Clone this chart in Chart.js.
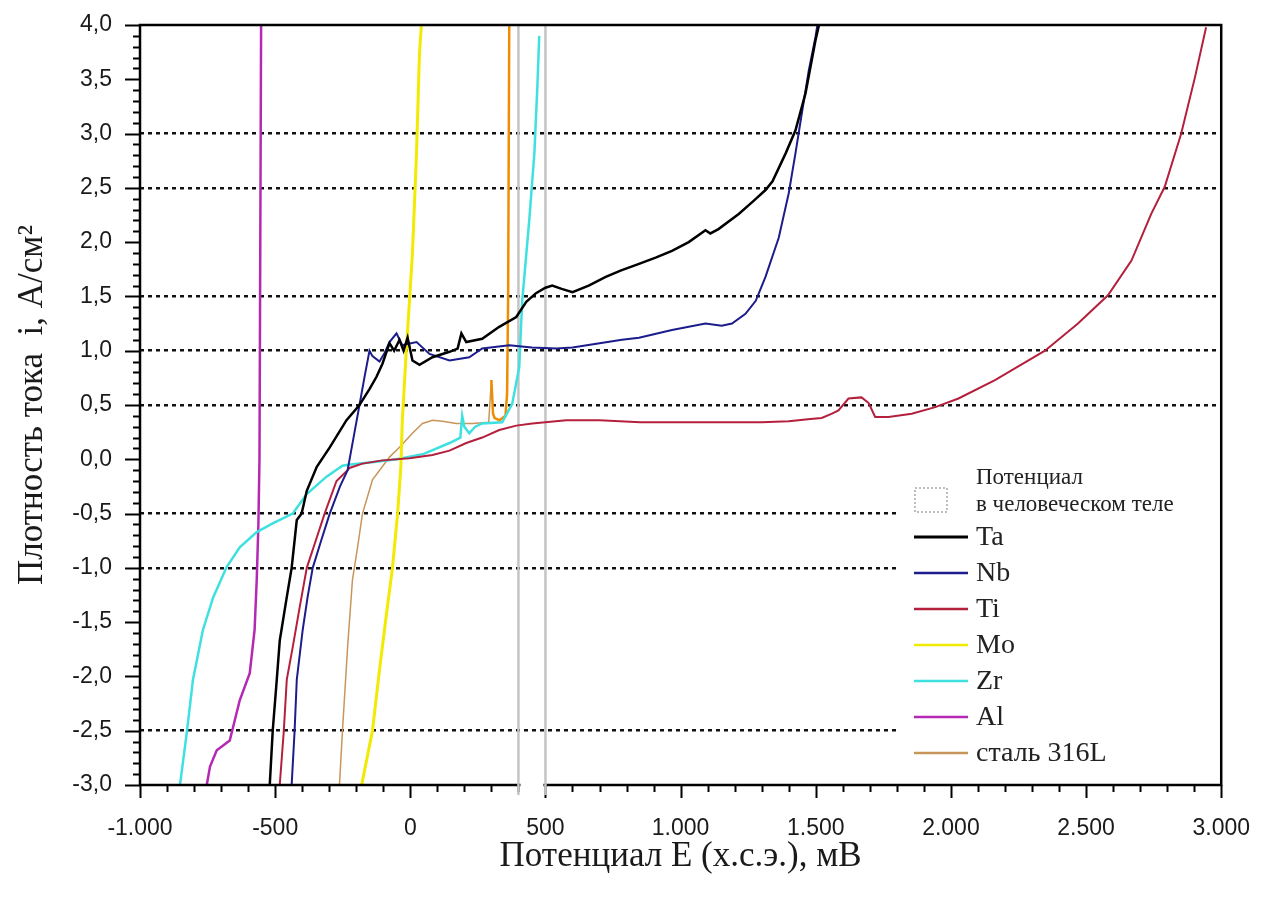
<!DOCTYPE html>
<html lang="ru">
<head>
  <meta charset="UTF-8">
  <title>Поляризационные кривые</title>
  <script src="https://cdn.jsdelivr.net/npm/chart.js"></script>
  <style>
    body { margin: 0; background: #fff; }
    #wrap { width: 1272px; height: 903px; }
  </style>
</head>
<body>
  <div id="wrap"><canvas id="chart" width="1272" height="903"></canvas></div>

  <script>
    // axis ticks
    const xTicks = [-1000, -500, 0, 500, 1000, 1500, 2000, 2500, 3000];
    const xTickLabels = ['-1.000', '-500', '0', '500', '1.000', '1.500', '2.000', '2.500', '3.000'];
    const yTicks = [-3, -2.5, -2, -1.5, -1, -0.5, 0, 0.5, 1, 1.5, 2, 2.5, 3, 3.5, 4];
    const yTickLabels = ['-3,0', '-2,5', '-2,0', '-1,5', '-1,0', '-0,5', '0,0', '0,5', '1,0', '1,5', '2,0', '2,5', '3,0', '3,5', '4,0'];
    const yGridValues = [3, 2.5, 1.5, 1, 0.5, -0.5, -1, -2.5];

    const seriesNames = ['Ta', 'Nb', 'Ti', 'Mo', 'Zr', 'Al', 'сталь 316L'];
    const bodyLabel = ['Потенциал', 'в человеческом теле'];
    const bodyE = [400, 500];

    // E, mV  /  i, A/cm2
    const taE = [-520,-509,-494,-483,-457,-439,-420,-402,-383,-346,-298,-236,-188,-150,-125,-103,-77,-60,-40,-25,-10,8,34,82,145,175,189,207,266,329,392,429,465,500,525,560,600,660,723,780,846,910,968,1030,1092,1110,1140,1215,1270,1314,1340,1389,1425,1462,1499,1512];
    const taI = [-3.0,-2.5,-2.03,-1.67,-1.27,-1.0,-0.56,-0.5,-0.29,-0.07,0.11,0.36,0.5,0.65,0.76,0.88,1.07,1.0,1.1,1.0,1.12,0.91,0.87,0.94,0.99,1.02,1.16,1.08,1.11,1.22,1.31,1.45,1.53,1.58,1.6,1.57,1.54,1.6,1.68,1.74,1.80,1.86,1.92,2.0,2.11,2.08,2.12,2.26,2.38,2.48,2.56,2.82,3.03,3.37,3.86,4.0];

    const nbE = [-439,-428,-420,-398,-380,-361,-330,-298,-260,-232,-210,-188,-170,-151,-140,-114,-95,-77,-51,-30,-14,23,71,145,218,266,366,450,540,600,783,846,968,1092,1152,1190,1240,1278,1314,1363,1400,1425,1450,1474,1499,1506];
    const nbI = [-3.0,-2.5,-2.03,-1.57,-1.27,-1.0,-0.75,-0.5,-0.25,-0.1,0.2,0.5,0.75,1.0,0.95,0.9,0.98,1.08,1.16,1.05,1.06,1.08,0.97,0.91,0.94,1.02,1.05,1.03,1.02,1.03,1.1,1.12,1.19,1.25,1.23,1.25,1.34,1.46,1.68,2.04,2.45,2.82,3.21,3.58,3.89,4.0];

    const tiE = [-483,-468,-457,-435,-409,-383,-350,-317,-273,-232,-225,-177,-103,-3,82,145,207,266,329,392,451,577,700,850,1000,1100,1200,1300,1400,1480,1522,1560,1584,1621,1669,1695,1720,1769,1855,1942,2028,2163,2348,2470,2581,2668,2741,2791,2852,2903,2944];
    const tiI = [-3.0,-2.5,-2.03,-1.73,-1.36,-1.0,-0.75,-0.5,-0.2,-0.1,-0.08,-0.04,-0.01,0.01,0.04,0.08,0.15,0.2,0.27,0.31,0.33,0.36,0.36,0.34,0.34,0.34,0.34,0.34,0.35,0.37,0.38,0.42,0.45,0.56,0.57,0.52,0.39,0.39,0.42,0.48,0.56,0.73,1.0,1.25,1.51,1.83,2.26,2.51,3.0,3.52,3.98];

    const moE = [-180,-160,-140,-114,-88,-66,-47,-35,-30,-15,-3,8,23,34,41];
    const moI = [-3.0,-2.75,-2.5,-1.94,-1.42,-1.0,-0.5,-0.07,0.33,1.0,1.46,1.9,2.82,3.74,4.0];

    const zrE = [-852,-826,-804,-767,-729,-679,-631,-568,-509,-435,-383,-310,-251,-230,-150,-50,50,145,185,192,200,218,240,266,340,377,403,414,440,459,470,477];
    const zrI = [-3.0,-2.5,-2.03,-1.57,-1.27,-0.99,-0.81,-0.67,-0.59,-0.5,-0.32,-0.16,-0.06,-0.05,-0.03,0.0,0.05,0.15,0.2,0.4,0.3,0.24,0.3,0.33,0.34,0.51,0.85,1.46,2.2,2.82,3.43,3.9];

    const alE = [-753,-741,-716,-668,-631,-594,-576,-568,-562,-558,-555,-552];
    const alI = [-3.0,-2.83,-2.68,-2.59,-2.22,-1.97,-1.57,-1.1,-0.6,0.0,2.0,4.0];

    const stE = [-262,-251,-232,-214,-195,-177,-140,-77,-40,8,45,82,119,170,230,290,300,306,312,330,352,358,362,366];
    const stI = [-3.0,-2.5,-1.73,-1.11,-0.81,-0.5,-0.19,0.02,0.11,0.24,0.33,0.36,0.35,0.33,0.33,0.34,0.73,0.42,0.38,0.36,0.40,0.6,1.5,4.0];

    const colors = ['#000000', '#1c1c8c', '#b4203c', '#f2ea00', '#3ee0e0', '#b428b4', '#c8965a'];
    const widths = [2.5, 2, 2, 3, 2.5, 2.5, 1.5];
    const steelOrange = '#f08c00';

    const pts = (xs, ys) => xs.map((x, i) => ({ x, y: ys[i] }));
    const seriesData = [pts(taE, taI), pts(nbE, nbI), pts(tiE, tiI), pts(moE, moI), pts(zrE, zrI), pts(alE, alI), pts(stE, stI)];

    const datasets = seriesNames.map((name, k) => ({
      label: name,
      data: seriesData[k],
      borderColor: colors[k],
      borderWidth: widths[k],
      pointRadius: 0,
      showLine: true,
      tension: 0
    }));
    // steel: passive breakdown drawn in orange
    datasets[6].segment = {
      borderColor: c => c.p0.parsed.x >= 295 ? steelOrange : undefined,
      borderWidth: c => c.p0.parsed.x >= 295 ? 2.5 : undefined
    };
    // body potential window
    bodyE.forEach(e => datasets.push({
      label: 'body',
      data: [{ x: e, y: yTicks[0] }, { x: e, y: yTicks[yTicks.length - 1] }],
      borderColor: '#c4c4c4',
      borderWidth: 2.5,
      pointRadius: 0,
      showLine: true
    }));

    // legend box inside the plot
    const innerLegend = {
      id: 'innerLegend',
      afterDatasetsDraw(chart) {
        const ctx = chart.ctx;
        ctx.save();
        ctx.fillStyle = '#fff';
        ctx.fillRect(898, 462, 322, 314);
        // body potential icon
        ctx.strokeStyle = '#a8a8a8';
        ctx.lineWidth = 1.5;
        ctx.setLineDash([2, 2]);
        ctx.strokeRect(915, 488, 32, 24);
        ctx.setLineDash([]);
        ctx.fillStyle = '#222';
        ctx.textBaseline = 'middle';
        ctx.font = '23px "Liberation Serif"';
        ctx.fillText(bodyLabel[0], 976, 478);
        ctx.fillText(bodyLabel[1], 976, 505);
        ctx.font = '28px "Liberation Serif"';
        seriesNames.forEach((name, k) => {
          const yy = 537 + k * 36;
          ctx.strokeStyle = colors[k];
          ctx.lineWidth = k === 0 ? 3 : 2.5;
          ctx.beginPath();
          ctx.moveTo(914, yy);
          ctx.lineTo(968, yy);
          ctx.stroke();
          ctx.fillText(name, 976, yy + 1);
        });
        ctx.restore();
      }
    };

    // frame and major/minor tick marks
    const axisMarks = {
      id: 'axisMarks',
      afterDraw(chart) {
        const { ctx, chartArea: a, scales: { x, y } } = chart;
        ctx.save();
        ctx.strokeStyle = '#000';
        ctx.lineWidth = 2;
        ctx.beginPath();
        for (let v = -30; v <= 40; v++) {
          const py = Math.round(y.getPixelForValue(v / 10)) + 0.5;
          const len = v % 5 === 0 ? 15 : 7;
          ctx.moveTo(a.left - len, py);
          ctx.lineTo(a.left, py);
        }
        for (let v = -10; v <= 30; v++) {
          const px = Math.round(x.getPixelForValue(v * 100)) + 0.5;
          const len = v % 5 === 0 ? 13 : 7;
          ctx.moveTo(px, a.bottom);
          ctx.lineTo(px, a.bottom + len);
        }
        ctx.stroke();
        ctx.lineWidth = 2.5;
        ctx.strokeRect(a.left, a.top, a.right - a.left, a.bottom - a.top);
        // axis line is broken by the body potential window
        const x0 = x.getPixelForValue(bodyE[0]), x1 = x.getPixelForValue(bodyE[1]);
        ctx.strokeStyle = '#fff';
        ctx.lineWidth = 4;
        ctx.beginPath();
        ctx.moveTo(x0 + 2, a.bottom);
        ctx.lineTo(x1 - 2, a.bottom);
        ctx.stroke();
        ctx.strokeStyle = '#c4c4c4';
        ctx.lineWidth = 2.5;
        ctx.beginPath();
        ctx.moveTo(x0, a.bottom - 2); ctx.lineTo(x0, a.bottom + 10);
        ctx.moveTo(x1, a.bottom - 2); ctx.lineTo(x1, a.bottom + 10);
        ctx.stroke();
        ctx.restore();
      }
    };

    new Chart(document.getElementById('chart'), {
      type: 'scatter',
      data: { datasets },
      options: {
        responsive: false,
        animation: false,
        layout: { padding: { top: 25, right: 37, left: 0, bottom: 0 } },
        plugins: { legend: { display: false }, tooltip: { enabled: false } },
        scales: {
          x: {
            type: 'linear',
            min: xTicks[0],
            max: xTicks[xTicks.length - 1],
            afterFit: s => { s.height = 118; },
            afterBuildTicks: s => { s.ticks = xTicks.map(v => ({ value: v })); },
            ticks: {
              padding: 22,
              maxRotation: 0,
              color: '#1a1a1a',
              font: { family: '"Liberation Sans", Arial, sans-serif', size: 23 },
              callback: v => xTickLabels[xTicks.indexOf(v)]
            },
            grid: { display: false },
            border: { display: false },
            title: {
              display: true,
              text: 'Потенциал E (х.с.э.), мВ',
              color: '#1a1a1a',
              font: { family: '"Liberation Serif", serif', size: 35 },
              padding: { top: 0, bottom: 25 }
            }
          },
          y: {
            type: 'linear',
            min: yTicks[0],
            max: yTicks[yTicks.length - 1],
            afterFit: s => { s.width = 140; s.paddingTop = 0; s.paddingBottom = 0; },
            afterBuildTicks: s => { s.ticks = yTicks.map(v => ({ value: v })); },
            ticks: {
              padding: 28,
              color: '#1a1a1a',
              font: { family: '"Liberation Sans", Arial, sans-serif', size: 23 },
              callback: v => yTickLabels[yTicks.indexOf(v)]
            },
            grid: {
              drawTicks: false,
              lineWidth: 2.5,
              color: c => (c.tick && yGridValues.includes(c.tick.value)) ? '#111' : 'rgba(0,0,0,0)'
            },
            border: { display: false, dash: [4, 4] },
            title: {
              display: true,
              text: 'Плотность тока  i, А/см²',
              color: '#1a1a1a',
              font: { family: '"Liberation Serif", serif', size: 35 },
              padding: { top: 12, bottom: 0 }
            }
          }
        }
      },
      plugins: [innerLegend, axisMarks]
    });
  </script>
</body>
</html>
